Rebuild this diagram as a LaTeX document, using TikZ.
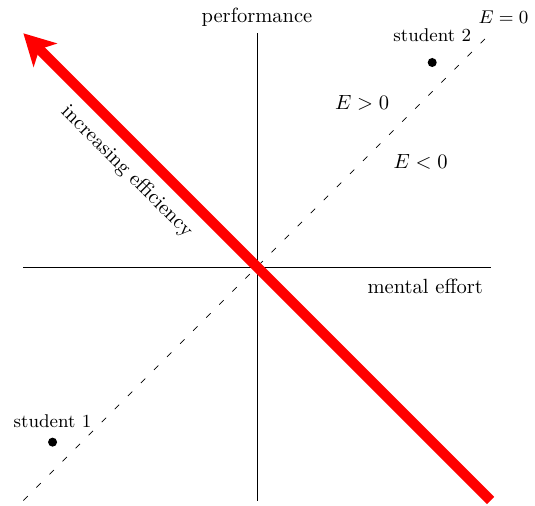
\documentclass[tikz,border=0pt]{standalone}
\usetikzlibrary{arrows.meta,positioning}
\begin{document}
\begin{tikzpicture}[
    axis/.style={thin},
    diag/.style={loosely dashed},
    effarrow/.style={-{Stealth[length=15pt, width=16pt, inset=4pt]}, red, line width=5pt},
    student/.style={circle, fill=black, inner sep=0pt, minimum size=4.4pt},
    lbl/.style={font=\small},
]
\useasboundingbox (-4.40,-4.09) rectangle (4.76,4.57);
% axes
\coordinate (xl) at (-4,0);
\coordinate (xr) at (4,0);
\coordinate (yb) at (0,-4);
\coordinate (yt) at (0,4);
\draw[axis] (xl) -- (xr);
\draw[axis] (yb) -- (yt);
\node (perf) at (0,4.28) {performance};
\node (effort) at (2.88,-0.33) {mental effort};
% E = 0 line
\coordinate (dl) at (-4,-4);
\coordinate (du) at (4,4);
\draw[diag] (dl) -- (du);
\node[font=\small] (ezero) at (4.22,4.27) {$E=0$};
\node (epos) at (1.8,2.8) {$E>0$};
\node (eneg) at (2.8,1.8) {$E<0$};
% students
\node[student] (s1) at (-3.5,-3) {};
\node[student] (s2) at (3,3.5) {};
\node[lbl, above=1pt of s1] (s1lbl) {student 1};
\node[lbl, above=4pt of s2] (s2lbl) {student 2};
% efficiency
\coordinate (ea) at (4,-4);
\coordinate (eb) at (-4,4);
\draw[effarrow] (ea) -- (eb);
\node[rotate=-45] (eff) at (-2.23,1.63) {increasing efficiency};
\end{tikzpicture}
\end{document}
